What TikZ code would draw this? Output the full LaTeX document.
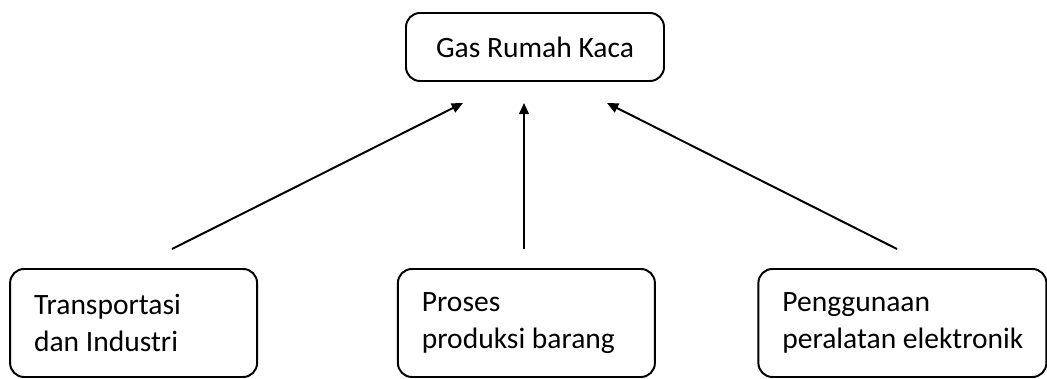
\documentclass[tikz,border=0pt]{standalone}
\usepackage{fontspec}
\setmainfont{Carlito}
\usetikzlibrary{arrows.meta,positioning}
\tikzset{
    box/.style={draw,rounded corners=0.35cm,line width=1.4pt,inner xsep=0.6cm},
    cause box/.style={box,align=flush left,minimum height=2.7cm,text width=#1},
    arr/.style={->,>={Triangle[length=8pt,width=7pt]},line width=1.4pt},
}
\tikzstyle{every node}=[font=\fontsize{21}{26.5}\selectfont]

\begin{document}
\begin{tikzpicture}
    \useasboundingbox (0,0) rectangle (26.175,9.475);
    \node[box,minimum width=6.45cm,minimum height=1.7cm] (gas) at (13.375,8.3) {Gas Rumah Kaca};
    \node[cause box=4.975cm] (transport) at (3.34,1.4) {Transportasi\\dan Industri};
    \node[cause box=5.225cm] (produksi) at (13.16,1.4) {Proses\\produksi barang};
    \node[cause box=6cm] (elektronik) at (22.56,1.4) {Penggunaan\\\mbox{peralatan elektronik}};
    % the arrows stop short of the boxes
    \coordinate (transport top) at (4.3,3.25);
    \coordinate (produksi top) at (13.1,3.25);
    \coordinate (elektronik top) at (22.425,3.25);
    \coordinate (gas left) at (11.575,6.9);
    \coordinate (gas mid) at (13.1,6.9);
    \coordinate (gas right) at (15.175,6.9);
    \draw[arr] (transport top) -- (gas left);
    \draw[arr] (produksi top) -- (gas mid);
    \draw[arr] (elektronik top) -- (gas right);
\end{tikzpicture}
\end{document}
